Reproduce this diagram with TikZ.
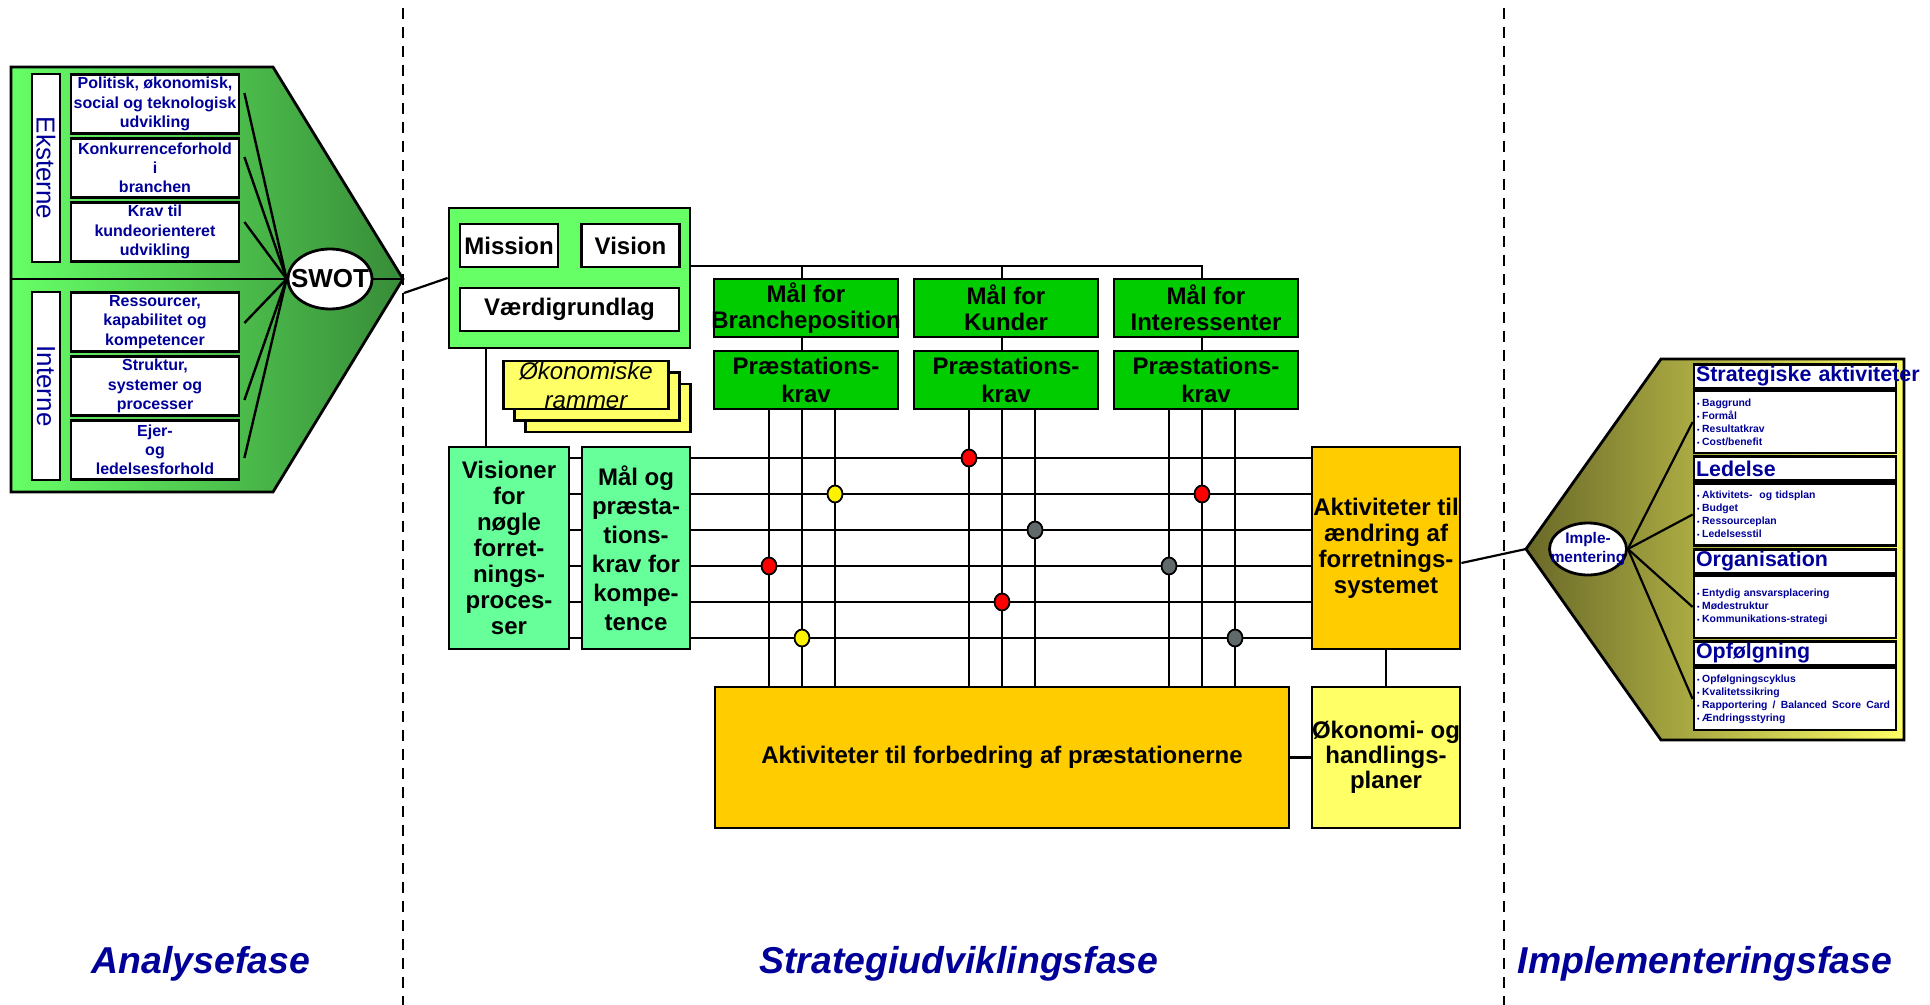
\documentclass[tikz,border=0pt]{standalone}
\usepackage{fontspec}
\setmainfont{Liberation Sans}
\usetikzlibrary{positioning,calc,shapes.geometric,backgrounds}

\definecolor{navy}{RGB}{0,0,153}
\definecolor{lgreen}{RGB}{102,255,102}
\definecolor{dgreen}{RGB}{56,140,56}
\definecolor{mgreen}{RGB}{0,204,0}
\definecolor{mint}{RGB}{102,255,153}
\definecolor{gold}{RGB}{255,204,0}
\definecolor{lyellow}{RGB}{255,255,102}
\definecolor{olivedark}{RGB}{105,105,40}
\definecolor{dotgray}{RGB}{96,106,106}

\newcommand{\fsz}[2]{\fontsize{#1}{#2}\selectfont}
\newcommand{\pkt}{\makebox[2.6pt][l]{\fsz{3.5}{3.5}\textbullet}}

\begin{document}
\begin{tikzpicture}[
	x = 0.5pt, y = -0.5pt,
	node distance = 100pt,
	on grid,
	kasse/.style = {draw, line width=1.4pt, inner sep=0pt, align=center, font=\bfseries\fsz{12}{13}},
	faktor/.style = {kasse, fill=white, text=navy, minimum width=84pt, minimum height=29.5pt, font=\bfseries\fsz{8}{9.6}},
	omraade/.style = {kasse, fill=white, text=navy, rotate=-90, minimum width=94pt, minimum height=14pt, font=\fsz{13}{13}},
	oval/.style = {ellipse, draw, line width=1.4pt, fill=white, inner ysep=0pt, align=center},
	mvbox/.style = {kasse, fill=white, minimum width=49pt, minimum height=21.5pt},
	maal/.style = {kasse, fill=mgreen, minimum width=92pt, minimum height=29pt, inner xsep=-2pt},
	ramme/.style = {kasse, fill=lyellow, minimum width=82.5pt, minimum height=24pt, font=\itshape\fsz{12}{14.5}},
	prik/.style = {ellipse, draw, line width=0.9pt, minimum width=7.5pt, minimum height=8.5pt, inner sep=0pt},
	forbind/.style = {line width=1.1pt},
	straale/.style = {line width=1.2pt},
	overskrift/.style = {kasse, fill=white, minimum width=101pt, minimum height=12pt, text width=99pt, align=left, text=navy, font=\bfseries\fsz{10.7}{11}},
	punkter/.style = {kasse, fill=white, minimum width=101pt, minimum height=31pt, text width=98pt, align=left, text=navy, font=\bfseries\fsz{5.2}{6.5}},
	fase/.style = {anchor=base, text=navy, font=\bfseries\itshape\fsz{18.7}{20}}
	]
	\useasboundingbox (0,0) rectangle (1930,1005);
	\draw[line width=1.2pt, dash pattern=on 5.5pt off 4pt] (403,8) -- (403,1005);
	\draw[line width=1.2pt, dash pattern=on 5.5pt off 4pt] (1504,8) -- (1504,1005);

	% analysefase
	\coordinate (ltip) at (403,279);
	\coordinate (dv) at (11,279);
	\draw[line width=1.4pt, left color=lgreen, right color=dgreen] (11,67) -- (273,67) -- (ltip) -- (273,492) -- (11,492) -- cycle;
	\node[oval, minimum width=42pt, minimum height=30pt, inner xsep=-5pt, font=\bfseries\fsz{13}{13}] (swot) at (330,279) {SWOT};
	\draw[forbind] (dv) -- (swot.west);
	\draw[forbind] (swot.east) -- (ltip);
	\node[omraade] (ekst) at (46,168) {Eksterne};
	\node[omraade] (intn) at (46,386) {Interne};
	\node[faktor] (e1) at (155,104) {Politisk, økonomisk,\\social og teknologisk\\udvikling};
	\node[faktor] (e2) [below=32pt of e1] {Konkurrenceforhold\\i\\branchen};
	\node[faktor] (e3) [below=32pt of e2] {Krav til\\kundeorienteret\\udvikling};
	\node[faktor] (i1) at (155,322) {Ressourcer,\\kapabilitet og\\kompetencer};
	\node[faktor] (i2) [below=32pt of i1] {Struktur,\\systemer og\\processer};
	\node[faktor] (i3) [below=32pt of i2] {Ejer-\\og\\ledelsesforhold};
	\draw[straale] (swot.west) -- ($(e1.east)+(4,-11)$);
	\draw[straale] (swot.west) -- ($(e2.east)+(4,-11)$);
	\draw[straale] (swot.west) -- ($(e3.east)+(4,-10)$);
	\draw[straale] (swot.west) -- ($(i1.east)+(4,1)$);
	\draw[straale] (swot.west) -- ($(i2.east)+(4,14)$);
	\draw[straale] (swot.west) -- ($(i3.east)+(4,8)$);

	% strategiudviklingsfase
	\node[kasse, fill=lgreen, minimum width=120.5pt, minimum height=70pt] (grp) at (569.5,278) {};
	\node[mvbox] (mis) at (509,245.5) {Mission};
	\node[mvbox] (vis) [right=60.75pt of mis] {Vision};
	\node[mvbox, minimum width=109.5pt] (vaerdi) at (569.5,309.5) {Værdigrundlag};
	\node[ramme] (ram3) at (608,408) {};
	\node[ramme] (ram2) at (597,396.5) {};
	\node[ramme] (ram1) at (586,385) {Økonomiske\\rammer};
	\node[maal] (mb1) at (806,308) {Mål for\\Brancheposition};
	\node[maal] (mb2) [right=of mb1] {Mål for\\Kunder};
	\node[maal] (mb3) [right=of mb2] {Mål for\\Interessenter};
	\node[maal, font=\bfseries\fsz{12}{14}] (pk1) [below=36pt of mb1] {Præstations-\\krav};
	\node[maal, font=\bfseries\fsz{12}{14}] (pk2) [below=36pt of mb2] {Præstations-\\krav};
	\node[maal, font=\bfseries\fsz{12}{14}] (pk3) [below=36pt of mb3] {Præstations-\\krav};
	\node[kasse, fill=mint, minimum width=60pt, minimum height=101pt] (visn) at (509,548) {Visioner\\for\\nøgle\\forret-\\nings-\\proces-\\ser};
	\node[kasse, fill=mint, minimum width=54pt, minimum height=101pt, font=\bfseries\fsz{12}{14.5}] (maalog) at (636,548) {Mål og\\præsta-\\tions-\\krav for\\kompe-\\tence};
	\node[kasse, fill=gold, minimum width=74pt, minimum height=101pt] (aend) at (1386,548) {Aktiviteter til\\ændring af\\forretnings-\\systemet};
	\node[kasse, fill=gold, minimum width=287pt, minimum height=70.5pt] (forb) at (1002,757.5) {Aktiviteter til forbedring af præstationerne};
	\node[kasse, fill=lyellow, minimum width=74pt, minimum height=70.5pt, font=\bfseries\fsz{12}{12.5}] (plan) at (1386,757.5) {Økonomi- og\\handlings-\\planer};

	\begin{scope}[on background layer]
		\coordinate (bus) at (0,266);
		\coordinate (m1) at ([xshift=-2pt]mb1.north);
		\coordinate (m2) at ([xshift=-2pt]mb2.north);
		\coordinate (m3) at ([xshift=-2pt]mb3.north);
		\draw[forbind] (grp.east |- bus) -- (m3 |- bus) -- (m3);
		\draw[forbind] (m1 |- bus) -- (m1);
		\draw[forbind] (m2 |- bus) -- (m2);
		\draw[forbind] (m1) -- (m1 |- pk1.north);
		\draw[forbind] (m2) -- (m2 |- pk2.north);
		\draw[forbind] (m3) -- (m3 |- pk3.north);
		\coordinate (vg) at ([xshift=-11.5pt]visn.north);
		\draw[forbind] (vg) -- (vg |- grp.south);
		\foreach \dy [count=\i] in {-90,-54,-18,18,54,90} {
			\coordinate (h\i) at ($(visn.east)+(0,\dy)$);
			\draw[forbind] (h\i) -- (h\i -| aend.west);
		}
		\foreach \p in {1,2,3} {
			\foreach \dx [count=\j] in {-18.5pt,-2pt,14.5pt} {
				\coordinate (v\p\j) at ([xshift=\dx]pk\p.south);
				\draw[forbind] (v\p\j) -- (v\p\j |- forb.north);
			}
		}
		\draw[forbind] (aend) -- (plan);
		\draw[forbind] (forb) -- (plan);
	\end{scope}

	\node[prik, fill=red] (d1) at (v21 |- h1) {};
	\node[prik, fill=yellow] (d2) at (v13 |- h2) {};
	\node[prik, fill=red] (d3) at (v32 |- h2) {};
	\node[prik, fill=dotgray] (d4) at (v23 |- h3) {};
	\node[prik, fill=red] (d5) at (v11 |- h4) {};
	\node[prik, fill=dotgray] (d6) at (v31 |- h4) {};
	\node[prik, fill=red] (d7) at (v22 |- h5) {};
	\node[prik, fill=yellow] (d8) at (v12 |- h6) {};
	\node[prik, fill=dotgray] (d9) at (v33 |- h6) {};

	\coordinate (lstart) at (404,293);
	\draw[forbind] (lstart) -- (grp.west);

	% implementeringsfase
	\coordinate (rtip) at (1526,549);
	\draw[forbind] ([yshift=-7.5pt]aend.east) -- (rtip);
	\draw[line width=1.4pt, left color=olivedark, right color=lyellow] (rtip) -- (1661,359) -- (1904,359) -- (1904,740) -- (1661,740) -- cycle;
	\node[oval, minimum width=38.5pt, minimum height=26pt, inner xsep=-5.5pt, text=navy, font=\bfseries\fsz{7.7}{9.5}] (impl) at (1588,549) {Imple-\\mentering};
	\node[punkter] (b1) at (1795,422) {\pkt Baggrund\\\pkt Formål\\\pkt Resultatkrav\\\pkt Cost/benefit};
	\node[punkter] (b2) [below=46.25pt of b1] {\pkt Aktivitets-~ og tidsplan\\\pkt Budget\\\pkt Ressourceplan\\\pkt Ledelsesstil};
	\node[punkter] (b3) [below=46.25pt of b2] {\pkt Entydig ansvarsplacering\\\pkt Mødestruktur\\\pkt Kommunikations-strategi};
	\node[punkter] (b4) [below=46pt of b3] {\pkt Opfølgningscyklus\\\pkt Kvalitetssikring\\\pkt \mbox{Rapportering\ \,/\ \,Balanced\ \,Score\ \,Card}\\\pkt Ændringsstyring};
	\node[overskrift, anchor=south] (t1) at (b1.north) {\mbox{Strategiske aktiviteter}};
	\node[overskrift, anchor=south] (t2) at (b2.north) {Ledelse};
	\node[overskrift, anchor=south] (t3) at (b3.north) {Organisation};
	\node[overskrift, anchor=south] (t4) at (b4.north) {Opfølgning};
	\draw[forbind] (impl.east) -- (b1.west);
	\draw[forbind] (impl.east) -- (b2.west);
	\draw[forbind] (impl.east) -- (b3.west);
	\draw[forbind] (impl.east) -- (b4.west);

	\node[fase] (f1) at (201,973) {Analysefase};
	\node[fase] (f2) at (959,973) {Strategiudviklingsfase};
	\node[fase] (f3) at (1705,973) {Implementeringsfase};
\end{tikzpicture}
\end{document}
